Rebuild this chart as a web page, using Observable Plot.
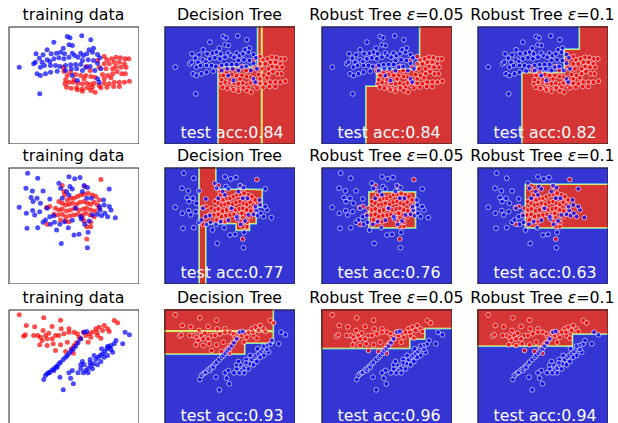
<!DOCTYPE html>
<html><head><meta charset="utf-8">
<script src="https://cdn.jsdelivr.net/npm/d3@7"></script>
<script src="https://cdn.jsdelivr.net/npm/@observablehq/plot@0.6"></script>
<style>
body{margin:0;background:#fff;}
#wrap{position:relative;width:618px;height:423px;overflow:hidden;font-family:"DejaVu Sans",sans-serif;}
.panel{position:absolute;}
.panel svg{overflow:hidden;display:block;}
.title{position:absolute;font-size:15.8px;line-height:1;white-space:nowrap;transform:translateX(-50%);color:#000;}
</style></head><body><div id="wrap"></div>
<script>
// ---- text ----
const titleMain = ["training data", "Decision Tree", "Robust Tree ", "Robust Tree "];
const titleEps = [null, null, "0.05", "0.1"];
const accuracy = [[0.84, 0.84, 0.82], [0.77, 0.76, 0.63], [0.93, 0.96, 0.94]];

// ---- feature-space extents per row (x1 range, x2 range; x2 grows downward) ----
const xDomain = [25, 415];
const yDomains = [[78, 432], [68, 418], [72, 426]];

// ---- row 1: two overlapping clusters ----
const blue1 = [[57,200],[118,280],[200,108],[208,112],[243,106],[160,125],[205,133],[215,135],[188,143],[270,118],[278,143],[265,148],[140,148],[107,160],[128,163],[152,160],[168,158],[180,155],[192,160],[215,158],[240,158],[248,165],[258,160],[275,155],[290,162],[297,172],[117,173],[100,190],[105,185],[125,185],[140,178],[148,183],[160,175],[175,172],[190,175],[205,170],[222,165],[232,170],[245,180],[262,178],[278,180],[290,188],[120,200],[132,195],[150,195],[165,195],[178,198],[195,195],[210,193],[225,192],[240,192],[255,200],[268,198],[110,220],[120,225],[135,220],[150,215],[170,212],[195,210],[212,205],[228,205],[245,210],[282,210],[300,205],[290,235],[295,245],[215,225],[230,240]];
const red1 = [[318,178],[332,175],[345,170],[358,172],[372,175],[383,175],[310,190],[325,190],[340,185],[355,185],[370,190],[345,198],[360,200],[335,205],[315,205],[375,200],[348,213],[362,220],[373,220],[335,220],[320,225],[305,222],[385,242],[370,245],[355,245],[340,245],[325,250],[310,248],[295,255],[300,262],[318,260],[338,258],[355,258],[280,248],[270,252],[258,248],[245,250],[232,248],[218,245],[205,245],[193,250],[198,260],[212,263],[228,262],[245,265],[260,262],[275,260],[283,275],[270,270],[245,272],[230,268],[200,225],[190,212],[210,215],[225,222],[240,225],[255,225],[270,228],[282,230],[250,235],[220,238],[195,238],[268,210],[258,198],[310,235],[330,232],[295,200],[290,180],[310,168],[188,200]];

// ---- row 2: red core inside blue ring ----
const blue2 = [[82,85],[112,100],[205,96],[222,102],[238,98],[175,115],[77,130],[96,138],[128,138],[180,130],[208,125],[215,132],[250,122],[260,128],[325,132],[92,158],[98,170],[57,187],[78,205],[97,197],[103,210],[118,200],[80,250],[112,248],[128,232],[150,238],[162,232],[168,255],[178,238],[192,230],[203,248],[215,226],[220,270],[235,268],[242,222],[252,238],[262,262],[260,308],[182,295],[265,228],[275,210],[290,208],[298,196],[302,212],[312,205],[320,215],[330,195],[343,218],[325,185],[310,180],[272,160],[258,160],[245,140],[148,162],[140,190],[135,225],[148,215],[160,212],[225,190],[240,215],[198,140],[205,150],[185,160],[120,175],[110,160],[296,185],[308,165]];
const red2 = [[300,104],[190,140],[192,150],[200,165],[210,160],[220,160],[230,155],[240,150],[250,148],[262,145],[275,150],[285,155],[295,165],[175,170],[185,175],[195,180],[205,178],[215,175],[228,178],[238,172],[250,170],[260,175],[270,178],[280,172],[290,180],[165,190],[175,195],[185,192],[198,198],[210,195],[222,190],[235,195],[248,192],[258,190],[270,195],[282,198],[295,190],[160,208],[172,210],[185,208],[195,215],[208,212],[220,210],[232,208],[245,210],[255,205],[268,210],[280,215],[180,225],[195,228],[205,230],[250,228],[270,232],[270,245],[245,218],[258,245],[258,282],[140,238],[138,188],[148,185],[185,122],[252,125]];

// ---- row 3: red upper cloud, two blue diagonal streaks ----
const red3 = [[57,88],[130,97],[180,104],[78,120],[103,124],[155,123],[128,135],[182,130],[205,130],[70,152],[75,148],[112,150],[120,155],[135,150],[125,165],[118,178],[140,160],[155,160],[158,175],[165,150],[175,150],[190,145],[205,140],[220,140],[230,145],[240,160],[228,172],[220,180],[212,190],[218,203],[195,198],[165,195],[235,155],[255,150],[265,145],[262,170],[275,140],[285,130],[295,125],[310,120],[320,130],[305,135],[290,150],[300,158],[340,105],[350,112],[325,138],[270,155],[248,140],[288,140],[100,150],[145,143],[200,170],[180,178],[140,180]];
const blue3 = [[130,282],[135,270],[140,265],[145,262],[148,260],[155,253],[160,255],[162,248],[168,242],[170,245],[175,235],[180,230],[188,222],[195,215],[200,210],[206,203],[212,196],[218,190],[225,182],[232,172],[240,160],[250,140],[232,262],[240,250],[250,238],[255,255],[262,248],[270,240],[278,235],[285,222],[292,215],[298,210],[305,205],[312,198],[318,190],[325,185],[330,180],[340,175],[335,200],[320,210],[310,215],[300,228],[290,238],[275,250],[262,262],[248,262],[240,238],[245,228],[268,222],[280,210],[302,190],[320,182],[345,165],[365,175],[372,140],[385,148],[258,138],[215,255],[210,278],[205,262],[178,275],[188,313],[218,295],[268,232],[330,192]];

// ---- predicted-red regions [x1, x2, y1, y2] for Decision Tree, Robust 0.05, Robust 0.1 ----
const regions1 = [
  [[188,308,203,440],[306,313,70,440],[319,420,70,440]],
  [[321,420,70,440],[313,420,193,440],[193,420,210,440],[161,420,261,440]],
  [[332,420,70,440],[287,420,150,440],[161,420,220,440]]
];
const regions2 = [
  [[132,147,60,425],[132,177,60,235],[145,315,138,185],[145,297,138,235],[242,277,138,255]],
  [[170,304,145,248]],
  [[171,420,122,248]]
];
const regions3 = [
  [[15,348,60,135],[15,348,142,172],[15,263,142,205]],
  [[15,287,60,188],[15,332,60,160],[15,420,60,128]],
  [[15,307,60,181],[15,420,60,145]]
];

const blues = [blue1, blue2, blue3];
const reds = [red1, red2, red3];
const regions = [regions1, regions2, regions3];

// ---- layout ----
const colLeft = [8, 164, 321, 477];
const rowTop = [26, 167, 309];
const panelW = 131;
const panelH = [118, 117, 118];
const BLUE_BG = "#3535d3", RED_BG = "#d63535";

const wrap = document.getElementById("wrap");

function makePanel(r, c) {
  const pts = [
    ...reds[r].map(([x, y]) => ({x, y, cls: "red"})),
    ...blues[r].map(([x, y]) => ({x, y, cls: "blue"}))
  ];
  const marks = [];
  if (c === 0) {
    marks.push(Plot.dot(pts, {x: "x", y: "y", r: 2.5, fill: "cls", fillOpacity: 0.7, stroke: "none"}));
  } else {
    const reg = regions[r][c - 1].map(([x1, x2, y1, y2]) => ({x1, x2, y1, y2}));
    const rc = {x1: "x1", x2: "x2", y1: "y1", y2: "y2", fill: RED_BG};
    marks.push(Plot.frame({fill: BLUE_BG, stroke: "none"}));
    marks.push(Plot.rect(reg, {...rc, stroke: "#62e4e8", strokeWidth: 3.4}));
    marks.push(Plot.rect(reg, {...rc, stroke: "#eeea5c", strokeWidth: 1.8}));
    marks.push(Plot.rect(reg, rc));
    marks.push(Plot.dot(pts, {x: "x", y: "y", r: 2.4, fill: "cls", fillOpacity: 0.7, stroke: "white", strokeOpacity: 0.75, strokeWidth: 0.8}));
    marks.push(Plot.text([`test acc:${accuracy[r][c - 1]}`], {
      text: d => d, frameAnchor: "bottom-right", dx: -12, dy: -7,
      textAnchor: "end", lineAnchor: "bottom", fill: "white",
      fontSize: 15.8, fontFamily: "DejaVu Sans"
    }));
  }
  marks.push(Plot.frame({stroke: "#222", strokeWidth: 1, inset: 0.5}));
  const svg = Plot.plot({
    width: panelW, height: panelH[r], margin: 0,
    x: {domain: xDomain, axis: null},
    y: {domain: yDomains[r], reverse: true, axis: null},
    color: {domain: ["red", "blue"], range: ["#ff0000", "#0000ff"]},
    marks
  });
  const div = document.createElement("div");
  div.className = "panel";
  div.style.left = colLeft[c] + "px";
  div.style.top = rowTop[r] + "px";
  div.appendChild(svg);
  wrap.appendChild(div);

  const t = document.createElement("div");
  t.className = "title";
  t.style.left = (colLeft[c] + panelW / 2) + "px";
  t.style.top = (rowTop[r] - 5.5 - 13.4) + "px";
  t.appendChild(document.createTextNode(titleMain[c]));
  if (titleEps[c] !== null) {
    const e = document.createElement("span");
    e.style.fontStyle = "italic";
    e.textContent = "ε";
    t.appendChild(e);
    t.appendChild(document.createTextNode("=" + titleEps[c]));
  }
  wrap.appendChild(t);
}

for (let r = 0; r < 3; r++) for (let c = 0; c < 4; c++) makePanel(r, c);
</script></body></html>
